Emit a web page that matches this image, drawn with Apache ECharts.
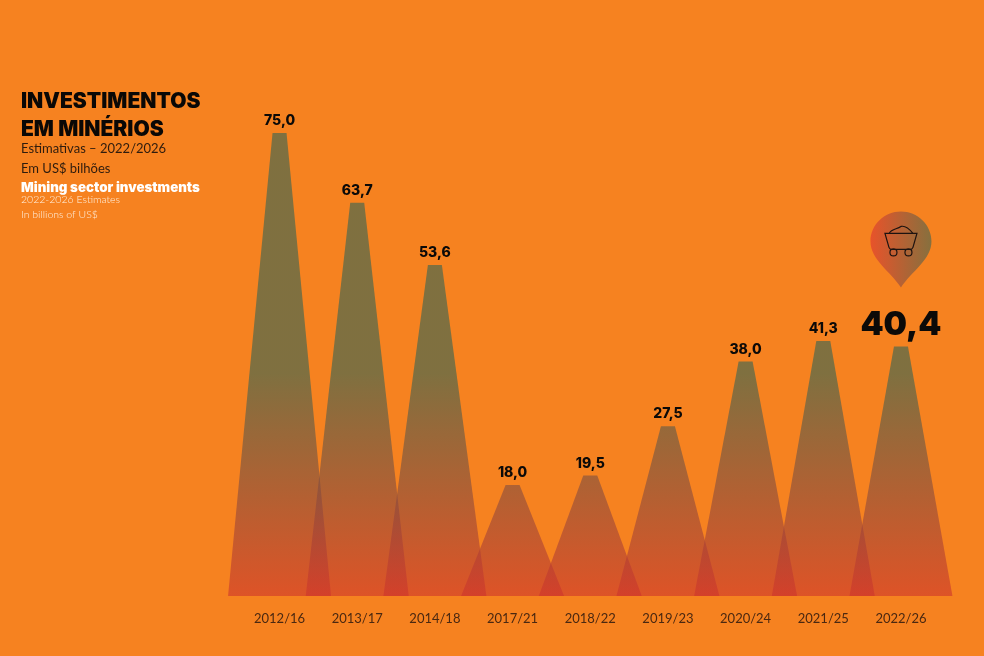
<!DOCTYPE html>
<html lang="pt-BR" style="height: 100%">
<head>
    <meta charset="utf-8">
    <title>Investimentos em minérios</title>
    <script src="https://cdn.jsdelivr.net/npm/echarts@6/dist/echarts.min.js"></script>
</head>
<body style="height: 100%; margin: 0; background: #f68220">
    <div id="main" style="height: 100%"></div>
    <script type="text/javascript">
        // periodos e valores (US$ bilhoes)
        const periods = ['2012/16', '2013/17', '2014/18', '2017/21', '2018/22', '2019/23', '2020/24', '2021/25', '2022/26'];
        const investments = [75.0, 63.7, 53.6, 18.0, 19.5, 27.5, 38.0, 41.3, 40.4];
        const valueLabels = ['75,0', '63,7', '53,6', '18,0', '19,5', '27,5', '38,0', '41,3', '40,4'];

        const ORANGE = '#f68220';
        const HALF_BASE = 51.5;
        const HALF_TOP = 7;
        const TEXT_FONT = 'Lato, "Open Sans", sans-serif';
        const HEAVY_FONT = 'Inter, Lato, sans-serif';

        const PIN_PATH = 'M30.5 76 C20 60 0 48 0 30 C0 13 14 0 30.5 0 C47 0 61 13 61 30 C61 48 41 60 30.5 76 Z';
        const CART_PATH = 'M0 8 L32 8 L28 22 Q27.5 24 25 24 L7 24 Q4.5 24 4 22 Z M4 8 C7 3 12 4 16 1 C20 0 24 3 28 8 M5 27 a3.5 3.5 0 1 0 7 0 a3.5 3.5 0 1 0 -7 0 M20 27 a3.5 3.5 0 1 0 7 0 a3.5 3.5 0 1 0 -7 0';

        var myChart = echarts.init(document.getElementById('main'));

        function renderPeak(params, api) {
            const i = params.dataIndex;
            const top = api.coord([api.value(0), api.value(1)]);
            const base = api.coord([api.value(0), 0]);
            const last = i === investments.length - 1;
            // o degrade acompanha a altura do pico, mais oliva em cima
            const upper = api.coord([api.value(0), 36]);
            const children = [{
                type: 'polygon',
                shape: {
                    points: [
                        [base[0] - HALF_BASE, base[1]],
                        [top[0] - HALF_TOP, top[1]],
                        [top[0] + HALF_TOP, top[1]],
                        [base[0] + HALF_BASE, base[1]]
                    ]
                },
                style: {
                    fill: new echarts.graphic.LinearGradient(0, upper[1], 0, base[1], [
                        { offset: 0, color: 'rgba(48,100,85,0.6)' },
                        { offset: 1, color: 'rgba(205,52,44,0.6)' }
                    ], true)
                }
            }, {
                type: 'text',
                x: top[0],
                y: top[1] - 5,
                style: {
                    text: valueLabels[i],
                    align: 'center',
                    verticalAlign: 'bottom',
                    fill: '#0c0a08',
                    font: last ? '900 33px ' + HEAVY_FONT : '800 14px ' + HEAVY_FONT
                }
            }];
            if (last) {
                // marcador com o carrinho de minerio
                children.push({
                    type: 'path',
                    shape: { pathData: PIN_PATH, x: top[0] - 30.5, y: top[1] - 135, width: 61, height: 76 },
                    style: {
                        fill: new echarts.graphic.LinearGradient(0, 0, 1, 0, [
                            { offset: 0, color: '#e8532a' },
                            { offset: 1, color: '#86703e' }
                        ])
                    }
                }, {
                    type: 'path',
                    shape: { pathData: CART_PATH, x: top[0] - 16, y: top[1] - 121, width: 32, height: 31 },
                    style: { fill: 'none', stroke: '#1d1310', lineWidth: 1.2 }
                });
            }
            return { type: 'group', children: children };
        }

        var option = {
            backgroundColor: ORANGE,
            animation: false,
            grid: { left: 240.7, right: 44.2, top: 133, bottom: 60 },
            xAxis: {
                type: 'category',
                data: periods,
                axisLine: { show: false },
                axisTick: { show: false },
                axisLabel: { margin: 16, fontSize: 13, fontFamily: TEXT_FONT, fontWeight: 400, color: '#4a2811' }
            },
            yAxis: { type: 'value', min: 0, max: 75, show: false },
            series: [{
                type: 'custom',
                renderItem: renderPeak,
                clip: false,
                encode: { x: 0, y: 1 },
                data: periods.map(function (p, i) { return [i, investments[i]]; })
            }],
            graphic: [
                { type: 'text', left: 21, top: 91, style: { text: 'INVESTIMENTOS', font: '900 21px ' + HEAVY_FONT, fill: '#0a0806' } },
                { type: 'text', left: 21, top: 119, style: { text: 'EM MINÉRIOS', font: '900 21px ' + HEAVY_FONT, fill: '#0a0806' } },
                { type: 'text', left: 21, top: 142, style: { text: 'Estimativas – 2022/2026', font: '400 13px ' + TEXT_FONT, fill: '#2e1c0e' } },
                { type: 'text', left: 21, top: 162, style: { text: 'Em US$ bilhões', font: '400 13px ' + TEXT_FONT, fill: '#2e1c0e' } },
                { type: 'text', left: 21, top: 181, style: { text: 'Mining sector investments', font: '900 13.3px ' + HEAVY_FONT, fill: '#ffffff' } },
                { type: 'text', left: 21, top: 194, style: { text: '2022-2026 Estimates', font: '300 10.5px ' + TEXT_FONT, fill: '#fff1e0' } },
                { type: 'text', left: 21, top: 209, style: { text: 'In billions of US$', font: '300 10.5px ' + TEXT_FONT, fill: '#fff1e0' } }
            ]
        };

        myChart.setOption(option);

        window.onresize = function () {
            myChart.resize();
        };
    </script>
</body>
</html>
